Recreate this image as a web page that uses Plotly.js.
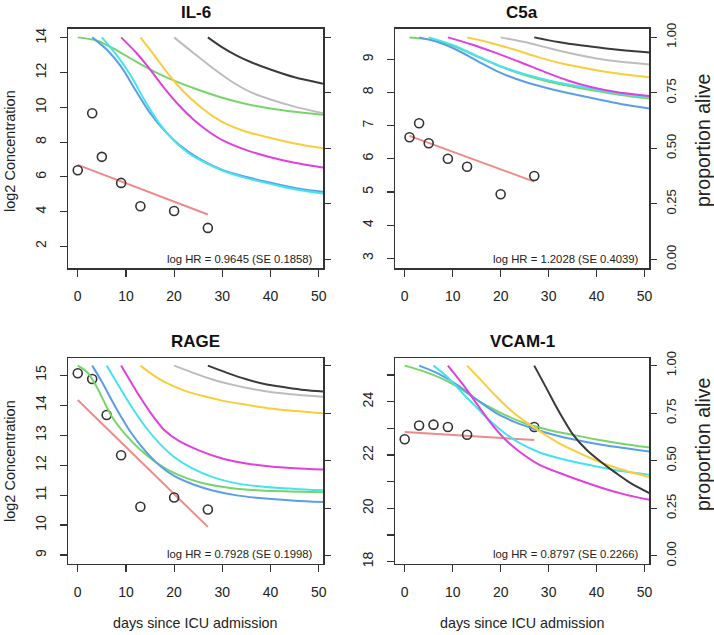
<!DOCTYPE html>
<html>
<head>
<meta charset="utf-8">
<script src="https://cdn.plot.ly/plotly-3.0.1.min.js"></script>
<style>html,body{margin:0;padding:0;background:#fff;}#chart{width:714px;height:635px;}</style>
</head>
<body>
<div id="chart"></div>
<script>
// ---------- data ----------
const panelTitles = ['IL-6', 'C5a', 'RAGE', 'VCAM-1'];
const hrTexts = ['log HR = 0.9645 (SE 0.1858)', 'log HR = 1.2028 (SE 0.4039)',
                 'log HR = 0.7928 (SE 0.1998)', 'log HR = 0.8797 (SE 0.2266)'];
const curveColors = ['#77D46A', '#5A9EEB', '#45E3EE', '#E040DC', '#F9CD3C', '#BDBDBD', '#3A3A3A'];
const survTicks = [0, 0.25, 0.5, 0.75, 1];
const survTickText = ['0.00', '0.25', '0.50', '0.75', '1.00'];
const dayTicks = [0, 10, 20, 30, 40, 50];

// IL-6
const il6Days = [0, 3, 5, 9, 13, 20, 27];
const il6Conc = [6.38, 9.66, 7.15, 5.65, 4.31, 4.03, 3.06];
const il6FitDays = [0, 27];
const il6FitConc = [6.69, 3.83];
const il6Ticks = [2, 4, 6, 8, 10, 12, 14];
const il6CurveColorIdx = [0, 1, 2, 3, 4, 5, 6];
const il6CurveDays = [
  [0, 4, 8, 12, 16, 20, 25, 30, 35, 40, 45, 50.9],
  [3, 6, 9, 12, 15, 18, 21, 25, 30, 35, 40, 45, 50.9],
  [5, 8, 11, 14, 17, 20, 23, 26, 30, 35, 40, 45, 50.9],
  [9, 12, 15, 18, 21, 24, 27, 30, 35, 40, 45, 50.9],
  [13, 16, 19, 22, 25, 28, 31, 35, 40, 45, 50.9],
  [20, 24, 28, 32, 36, 40, 45, 50.9],
  [27, 30, 33, 36, 40, 45, 50.9]
];
const il6CurveSurv = [
  [1, 0.985, 0.943, 0.892, 0.845, 0.805, 0.764, 0.728, 0.700, 0.680, 0.665, 0.651],
  [1, 0.945, 0.868, 0.762, 0.660, 0.580, 0.517, 0.456, 0.403, 0.371, 0.345, 0.322, 0.304],
  [1, 0.922, 0.828, 0.712, 0.610, 0.534, 0.478, 0.440, 0.400, 0.366, 0.340, 0.316, 0.297],
  [1, 0.934, 0.856, 0.770, 0.694, 0.630, 0.578, 0.537, 0.492, 0.460, 0.435, 0.414],
  [1, 0.916, 0.829, 0.755, 0.695, 0.645, 0.608, 0.575, 0.547, 0.522, 0.500],
  [1, 0.930, 0.862, 0.800, 0.752, 0.720, 0.688, 0.658],
  [1, 0.955, 0.918, 0.888, 0.855, 0.820, 0.791]
];

// C5a
const c5aDays = [1, 3, 5, 9, 13, 20, 27];
const c5aConc = [6.65, 7.07, 6.47, 6.00, 5.76, 4.93, 5.48];
const c5aFitDays = [1, 27];
const c5aFitConc = [6.69, 5.31];
const c5aTicks = [3, 4, 5, 6, 7, 8, 9];
const c5aCurveColorIdx = [0, 1, 2, 3, 4, 5, 6];
const c5aCurveDays = [
  [1, 5, 10, 15, 20, 25, 30, 35, 40, 45, 51],
  [3, 7, 11, 15, 20, 25, 30, 35, 40, 45, 51],
  [5, 10, 15, 20, 25, 30, 35, 40, 45, 51],
  [9, 14, 19, 24, 29, 34, 39, 45, 51],
  [13, 18, 23, 28, 33, 38, 44, 51],
  [20, 25, 30, 35, 40, 45, 51],
  [27, 32, 37, 42, 46, 51]
];
const c5aCurveSurv = [
  [1, 0.991, 0.962, 0.915, 0.868, 0.830, 0.800, 0.778, 0.758, 0.740, 0.724],
  [1, 0.978, 0.942, 0.895, 0.840, 0.800, 0.770, 0.745, 0.722, 0.700, 0.680],
  [1, 0.966, 0.917, 0.870, 0.834, 0.806, 0.784, 0.764, 0.746, 0.730],
  [1, 0.968, 0.930, 0.889, 0.846, 0.806, 0.775, 0.750, 0.736],
  [1, 0.975, 0.944, 0.910, 0.881, 0.860, 0.838, 0.820],
  [1, 0.979, 0.952, 0.926, 0.905, 0.890, 0.878],
  [1, 0.979, 0.963, 0.950, 0.941, 0.932]
];

// RAGE
const rageDays = [0, 3, 6, 9, 13, 20, 27];
const rageConc = [15.06, 14.87, 13.67, 12.33, 10.61, 10.92, 10.52];
const rageFitDays = [0, 27];
const rageFitConc = [14.17, 9.94];
const rageTicks = [9, 10, 11, 12, 13, 14, 15];
const rageCurveColorIdx = [0, 1, 2, 3, 4, 5, 6];
const rageCurveDays = [
  [0, 2, 4, 7, 10, 13, 16, 19, 23, 27, 32, 38, 44, 50.9],
  [3, 5, 8, 11, 14, 17, 20, 24, 28, 33, 39, 45, 50.9],
  [6, 8, 11, 14, 17, 20, 24, 28, 33, 39, 45, 50.9],
  [9, 11, 13, 15, 18, 21, 25, 30, 35, 40, 45, 50.9],
  [13, 15, 18, 22, 26, 30, 35, 40, 45, 50.9],
  [20, 24, 28, 32, 36, 40, 45, 50.9],
  [27, 31, 35, 39, 43, 47, 50.9]
];
const rageCurveSurv = [
  [1, 0.965, 0.885, 0.735, 0.635, 0.558, 0.496, 0.448, 0.405, 0.377, 0.356, 0.344, 0.339, 0.335],
  [1, 0.915, 0.775, 0.650, 0.552, 0.475, 0.420, 0.375, 0.344, 0.318, 0.301, 0.290, 0.283],
  [1, 0.915, 0.790, 0.680, 0.590, 0.520, 0.457, 0.414, 0.381, 0.362, 0.352, 0.345],
  [1, 0.915, 0.832, 0.756, 0.660, 0.604, 0.556, 0.512, 0.486, 0.470, 0.461, 0.454],
  [1, 0.962, 0.914, 0.870, 0.840, 0.816, 0.794, 0.774, 0.761, 0.750],
  [1, 0.962, 0.927, 0.900, 0.878, 0.861, 0.848, 0.836],
  [1, 0.962, 0.928, 0.902, 0.886, 0.872, 0.864]
];

// VCAM-1
const vcamDays = [0, 3, 6, 9, 13, 27];
const vcamConc = [22.59, 23.11, 23.14, 23.05, 22.76, 23.05];
const vcamFitDays = [0, 27];
const vcamFitConc = [22.86, 22.56];
const vcamTicks = [18, 19, 20, 21, 22, 23, 24, 25];
const vcamTickText = ['18', '', '20', '', '22', '', '24', ''];
const vcamCurveColorIdx = [0, 1, 2, 3, 4, 6];
const vcamCurveDays = [
  [0, 4, 8, 12, 16, 20, 25, 30, 35, 40, 45, 51],
  [3, 7, 11, 15, 19, 23, 27, 31, 36, 42, 51],
  [6, 9, 12, 15, 18, 21, 24, 28, 33, 38, 44, 51],
  [9, 12, 15, 18, 21, 24, 28, 32, 37, 42, 46, 51],
  [13, 16, 19, 22, 25, 28, 32, 36, 40, 45, 51],
  [27, 29.5, 32, 35, 38, 41, 44, 47, 51]
];
const vcamCurveSurv = [
  [1, 0.970, 0.929, 0.873, 0.805, 0.752, 0.697, 0.662, 0.636, 0.612, 0.591, 0.570],
  [1, 0.958, 0.898, 0.822, 0.752, 0.703, 0.667, 0.637, 0.608, 0.580, 0.549],
  [1, 0.938, 0.856, 0.780, 0.705, 0.642, 0.592, 0.545, 0.508, 0.480, 0.450, 0.426],
  [1, 0.905, 0.800, 0.696, 0.610, 0.546, 0.480, 0.438, 0.392, 0.350, 0.322, 0.295],
  [1, 0.921, 0.840, 0.767, 0.708, 0.658, 0.594, 0.545, 0.500, 0.455, 0.414],
  [1, 0.883, 0.765, 0.640, 0.555, 0.492, 0.436, 0.384, 0.330]
];

// ---------- layout geometry (pixels) ----------
const W = 714, H = 635;
const FONT = 'Liberation Sans, Arial, Helvetica, sans-serif';
const INK = '#333333';
const panels = [
  {days: il6Days, conc: il6Conc, fitD: il6FitDays, fitC: il6FitConc, cd: il6CurveDays, cs: il6CurveSurv, ci: il6CurveColorIdx,
   ticks: il6Ticks, tickText: il6Ticks.map(String), yRange: [0.74, 14.54], box: [68.3, 323.3, 28.5, 268.2], rightLabels: false},
  {days: c5aDays, conc: c5aConc, fitD: c5aFitDays, fitC: c5aFitConc, cd: c5aCurveDays, cs: c5aCurveSurv, ci: c5aCurveColorIdx,
   ticks: c5aTicks, tickText: c5aTicks.map(String), yRange: [2.70, 9.93], box: [395.3, 649.2, 28.5, 268.2], rightLabels: true},
  {days: rageDays, conc: rageConc, fitD: rageFitDays, fitC: rageFitConc, cd: rageCurveDays, cs: rageCurveSurv, ci: rageCurveColorIdx,
   ticks: rageTicks, tickText: rageTicks.map(String), yRange: [8.72, 15.57], box: [68.3, 323.3, 358.0, 563.5], rightLabels: false},
  {days: vcamDays, conc: vcamConc, fitD: vcamFitDays, fitC: vcamFitConc, cd: vcamCurveDays, cs: vcamCurveSurv, ci: vcamCurveColorIdx,
   ticks: vcamTicks, tickText: vcamTickText, yRange: [17.93, 25.64], box: [395.3, 649.2, 358.0, 563.5], rightLabels: true}
];

const traces = [];
const layout = {
  width: W, height: H,
  margin: {l: 0, r: 0, t: 0, b: 0},
  paper_bgcolor: '#ffffff', plot_bgcolor: '#ffffff',
  showlegend: false,
  font: {family: FONT, color: '#222222'},
  annotations: []
};

panels.forEach((p, i) => {
  const n = i + 1;
  const xk = n === 1 ? 'x' : 'x' + n;
  const xKey = n === 1 ? 'xaxis' : 'xaxis' + n;
  const yl = 2 * n - 1, yr = 2 * n;
  const ylk = yl === 1 ? 'y' : 'y' + yl;
  const ylKey = yl === 1 ? 'yaxis' : 'yaxis' + yl;
  const yrk = 'y' + yr;
  const yrKey = 'yaxis' + yr;
  const [bl, br, bt, bb] = p.box;
  const xd = [bl / W, br / W];
  const yd = [1 - bb / H, 1 - bt / H];

  layout[xKey] = {
    domain: xd, range: [-1.96, 50.96], anchor: ylk,
    tickmode: 'array', tickvals: dayTicks, ticktext: dayTicks.map(String),
    ticks: 'outside', ticklen: 7, tickwidth: 1.2, tickcolor: INK,
    showline: true, linecolor: INK, linewidth: 1.3, mirror: true,
    showgrid: false, zeroline: false, fixedrange: true,
    tickfont: {family: FONT, size: 14, color: '#222'}, ticklabelstandoff: 8
  };
  layout[ylKey] = {
    domain: yd, range: p.yRange, anchor: xk,
    tickmode: 'array', tickvals: p.ticks, ticktext: p.tickText, tickangle: -90,
    ticks: 'outside', ticklen: 7, tickwidth: 1.2, tickcolor: INK,
    showline: true, linecolor: INK, linewidth: 1.3, mirror: true,
    showgrid: false, zeroline: false, fixedrange: true,
    tickfont: {family: FONT, size: 14, color: '#222'}, ticklabelstandoff: 8
  };
  layout[yrKey] = {
    overlaying: ylk, side: 'right', anchor: xk, range: [-0.04, 1.04],
    tickmode: 'array', tickvals: survTicks, ticktext: survTickText, tickangle: -90,
    ticks: 'outside', ticklen: 7, tickwidth: 1.2, tickcolor: INK,
    showline: false, showgrid: false, zeroline: false, fixedrange: true,
    showticklabels: p.rightLabels,
    tickfont: {family: FONT, size: 13, color: '#222'}, ticklabelstandoff: 3
  };

  // fitted trajectory and measurement circles (left axis)
  traces.push({
    type: 'scatter', mode: 'lines', x: p.fitD, y: p.fitC, xaxis: xk, yaxis: ylk,
    line: {color: '#F08A8A', width: 2}, hoverinfo: 'skip'
  });
  traces.push({
    type: 'scatter', mode: 'markers', x: p.days, y: p.conc, xaxis: xk, yaxis: ylk,
    marker: {symbol: 'circle-open', size: 9, color: '#333', line: {width: 1.6, color: '#333'}},
    hoverinfo: 'skip'
  });
  // survival curves (right axis)
  p.cd.forEach((d, k) => {
    traces.push({
      type: 'scatter', mode: 'lines', x: d, y: p.cs[k], xaxis: xk, yaxis: yrk,
      line: {color: curveColors[p.ci[k]], width: 2, shape: 'spline', smoothing: 0.8},
      hoverinfo: 'skip'
    });
  });

  // panel title
  layout.annotations.push({
    xref: 'paper', yref: 'paper', x: ((bl + br) / 2) / W, y: 1 - (n <= 2 ? 12.7 : 341.7) / H,
    xanchor: 'center', yanchor: 'middle', showarrow: false,
    text: '<b>' + panelTitles[i] + '</b>', font: {family: FONT, size: 17, color: '#111'}
  });
  // HR annotation
  layout.annotations.push({
    xref: xk + ' domain', yref: ylk + ' domain', x: 1, y: 0,
    xanchor: 'right', yanchor: 'middle', xshift: -8, yshift: 9.5, showarrow: false,
    text: hrTexts[i], font: {family: FONT, size: 11.3, color: '#222'}
  });
});

// axis titles
const axisTitleFont = {family: FONT, size: 14.5, color: '#222'};
const survTitleFont = {family: FONT, size: 19.5, color: '#222'};
layout.annotations.push({xref: 'paper', yref: 'paper', x: 10 / W, y: 1 - 151 / H, textangle: -90,
  xanchor: 'center', yanchor: 'middle', showarrow: false, text: 'log2 Concentration', font: axisTitleFont});
layout.annotations.push({xref: 'paper', yref: 'paper', x: 10 / W, y: 1 - 461 / H, textangle: -90,
  xanchor: 'center', yanchor: 'middle', showarrow: false, text: 'log2 Concentration', font: axisTitleFont});
layout.annotations.push({xref: 'paper', yref: 'paper', x: 703 / W, y: 1 - 141 / H, textangle: -90,
  xanchor: 'center', yanchor: 'middle', showarrow: false, text: 'proportion alive', font: survTitleFont});
layout.annotations.push({xref: 'paper', yref: 'paper', x: 703 / W, y: 1 - 445 / H, textangle: -90,
  xanchor: 'center', yanchor: 'middle', showarrow: false, text: 'proportion alive', font: survTitleFont});
layout.annotations.push({xref: 'paper', yref: 'paper', x: 195.8 / W, y: 1 - 623 / H,
  xanchor: 'center', yanchor: 'middle', showarrow: false, text: 'days since ICU admission', font: {family: FONT, size: 14.3, color: '#222'}});
layout.annotations.push({xref: 'paper', yref: 'paper', x: 522.3 / W, y: 1 - 623 / H,
  xanchor: 'center', yanchor: 'middle', showarrow: false, text: 'days since ICU admission', font: {family: FONT, size: 14.3, color: '#222'}});

Plotly.newPlot('chart', traces, layout, {staticPlot: true, displayModeBar: false});
</script>
</body>
</html>
